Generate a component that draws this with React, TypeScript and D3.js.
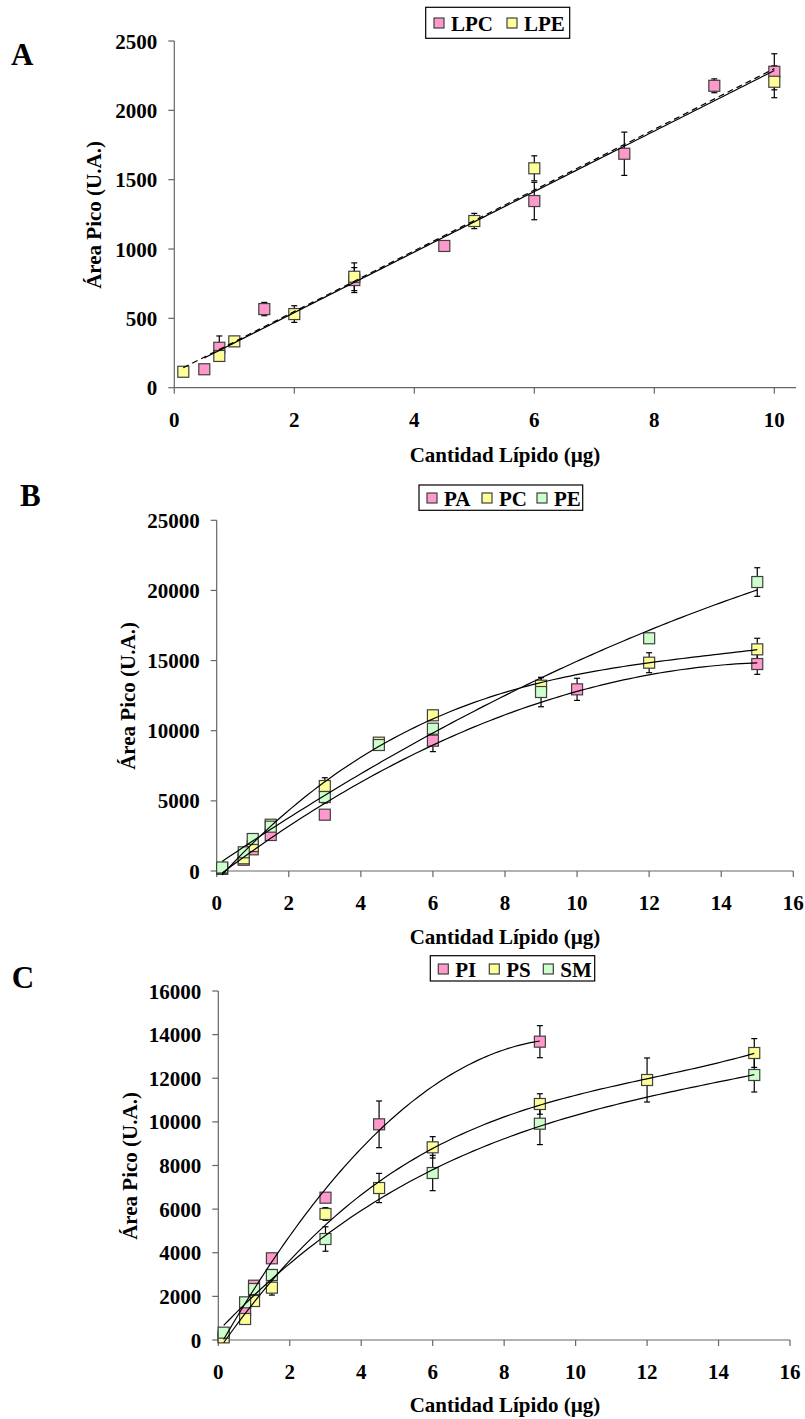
import React from 'react';
import * as d3 from 'd3';

// ---------- Panel A data ----------
const A_LPC_X = [0.5, 0.75, 1.5, 3, 4.5, 6, 7.5, 9, 10];
const A_LPC_Y = [133, 288, 567, 776, 1022, 1346, 1687, 2177, 2278];
const A_LPC_ERR = [0, 85, 48, 90, 0, 135, 156, 50, 130];
const A_LPE_X = [0.15, 0.75, 1, 2, 3, 5, 6, 10];
const A_LPE_Y = [115, 229, 334, 531, 800, 1202, 1582, 2206];
const A_LPE_ERR = [0, 0, 35, 60, 100, 55, 90, 115];
const A_X_TICKS = [0, 2, 4, 6, 8, 10];
const A_Y_TICKS = [0, 500, 1000, 1500, 2000, 2500];

// ---------- Panel B data ----------
const B_PA_X = [0.15, 0.75, 1, 1.5, 3, 6, 10, 15];
const B_PA_Y = [150, 800, 1545, 2566, 4014, 9289, 12950, 14755];
const B_PA_ERR = [0, 0, 100, 150, 0, 780, 790, 735];
const B_PC_X = [0.15, 0.75, 1, 1.5, 3, 4.5, 6, 9, 12, 15];
const B_PC_Y = [200, 905, 1782, 3300, 6059, 9150, 11099, 13210, 14850, 15800];
const B_PC_ERR = [0, 0, 100, 200, 590, 200, 350, 570, 710, 790];
const B_PE_X = [0.15, 0.75, 1, 1.5, 3, 4.5, 6, 9, 12, 15];
const B_PE_Y = [250, 1333, 2281, 3160, 5275, 8982, 10144, 12760, 16590, 20600];
const B_PE_ERR = [0, 0, 0, 150, 430, 0, 300, 1050, 0, 1020];
const B_X_TICKS = [0, 2, 4, 6, 8, 10, 12, 14, 16];
const B_Y_TICKS = [0, 5000, 10000, 15000, 20000, 25000];

// ---------- Panel C data ----------
const C_PI_X = [0.15, 0.75, 1, 1.5, 3, 4.5, 9];
const C_PI_Y = [150, 1375, 2490, 3745, 6525, 9888, 13677];
const C_PI_ERR = [0, 0, 100, 200, 0, 1070, 735];
const C_PS_X = [0.15, 0.75, 1, 1.5, 3, 4.5, 6, 9, 12, 15];
const C_PS_Y = [120, 963, 1788, 2399, 5777, 6968, 8833, 10820, 11920, 13158];
const C_PS_ERR = [0, 0, 200, 340, 290, 670, 490, 470, 1010, 660];
const C_SM_X = [0.15, 0.75, 1, 1.5, 3, 6, 9, 15];
const C_SM_Y = [336, 1727, 2338, 2980, 4630, 7656, 9917, 12149];
const C_SM_ERR = [0, 0, 0, 250, 560, 810, 960, 780];
const C_X_TICKS = [0, 2, 4, 6, 8, 10, 12, 14, 16];
const C_Y_TICKS = [0, 2000, 4000, 6000, 8000, 10000, 12000, 14000, 16000];

// polynomial trendline order per series
const TREND_ORDER_A = [1, 1];
const TREND_ORDER_B = [2, 3, 2];
const TREND_ORDER_C = [2, 3, 3];

const PINK = '#FF99CC';
const YELLOW = '#FFFF99';
const GREEN = '#CCFFCC';
const FONT = '"Liberation Serif", "Times New Roman", serif';
const AXIS = '#666666';

type Series = { name: string; x: number[]; y: number[]; err: number[]; color: string; deg: number; dash?: string };

function polyfit(xs: number[], ys: number[], deg: number): number[] {
  const n = deg + 1;
  const M: number[][] = [];
  for (let i = 0; i < n; i++) {
    const row: number[] = [];
    for (let j = 0; j < n; j++) row.push(d3.sum(xs, (x) => Math.pow(x, i + j)));
    row.push(d3.sum(xs, (x, k) => Math.pow(x, i) * ys[k]));
    M.push(row);
  }
  for (let c = 0; c < n; c++) {
    let p = c;
    for (let r = c + 1; r < n; r++) if (Math.abs(M[r][c]) > Math.abs(M[p][c])) p = r;
    [M[c], M[p]] = [M[p], M[c]];
    for (let r = 0; r < n; r++) {
      if (r === c) continue;
      const f = M[r][c] / M[c][c];
      for (let k = c; k <= n; k++) M[r][k] -= f * M[c][k];
    }
  }
  return M.map((row, i) => row[n] / row[i]);
}

type PanelProps = {
  letter: string;
  letterPos: [number, number];
  xRange: [number, number];
  xDomain: [number, number];
  xAxisEnd: number;
  yRange: [number, number];
  yDomain: [number, number];
  xTicks: number[];
  yTicks: number[];
  series: Series[];
  yTitlePos: [number, number];
  xTitlePos: [number, number];
  legendBox: [number, number, number, number];
  legendItemX: number[];
  legendBaseline: number;
};

function Panel(p: PanelProps) {
  const x = d3.scaleLinear().domain(p.xDomain).range(p.xRange);
  const y = d3.scaleLinear().domain(p.yDomain).range(p.yRange);
  const y0 = p.yRange[0];
  const x0 = p.xRange[0];
  const ms = 11;
  const fs = 21;
  return (
    <g>
      <text x={p.letterPos[0]} y={p.letterPos[1]} fontFamily={FONT} fontWeight="bold" fontSize={31}>{p.letter}</text>
      {/* axes */}
      <line x1={x0} x2={x0} y1={p.yRange[1]} y2={y0} stroke={AXIS} strokeWidth={1.2} />
      <line x1={x0} x2={p.xAxisEnd} y1={y0} y2={y0} stroke={AXIS} strokeWidth={1.2} />
      {p.yTicks.map((t) => (
        <g key={'y' + t}>
          <line x1={x0 - 6} x2={x0} y1={y(t)} y2={y(t)} stroke={AXIS} strokeWidth={1.2} />
          <text x={x0 - 17} y={y(t) + 7.5} textAnchor="end" fontFamily={FONT} fontWeight="bold" fontSize={fs}>{t}</text>
        </g>
      ))}
      {p.xTicks.map((t) => (
        <g key={'x' + t}>
          <line x1={x(t)} x2={x(t)} y1={y0} y2={y0 + 6} stroke={AXIS} strokeWidth={1.2} />
          <text x={x(t)} y={y0 + 39} textAnchor="middle" fontFamily={FONT} fontWeight="bold" fontSize={fs}>{t}</text>
        </g>
      ))}
      <text transform={`translate(${p.yTitlePos[0]},${p.yTitlePos[1]}) rotate(-90)`} textAnchor="middle" fontFamily={FONT} fontWeight="bold" fontSize={fs}>Área Pico (U.A.)</text>
      <text x={p.xTitlePos[0]} y={p.xTitlePos[1]} textAnchor="middle" fontFamily={FONT} fontWeight="bold" fontSize={fs}>Cantidad Lípido (µg)</text>
      {/* error bars */}
      {p.series.map((s) => (
        <g key={'e' + s.name}>
          {s.x.map((xv, i) => s.err[i] > 0 ? (
            <g key={i}>
              <line x1={x(xv)} x2={x(xv)} y1={y(s.y[i] - s.err[i])} y2={y(s.y[i] + s.err[i])} stroke="#000" strokeWidth={1.2} />
              <line x1={x(xv) - 3} x2={x(xv) + 3} y1={y(s.y[i] - s.err[i])} y2={y(s.y[i] - s.err[i])} stroke="#000" strokeWidth={1.2} />
              <line x1={x(xv) - 3} x2={x(xv) + 3} y1={y(s.y[i] + s.err[i])} y2={y(s.y[i] + s.err[i])} stroke="#000" strokeWidth={1.2} />
            </g>
          ) : null)}
        </g>
      ))}
      {/* markers */}
      {p.series.map((s) => (
        <g key={'m' + s.name}>
          {s.x.map((xv, i) => (
            <rect key={i} x={x(xv) - ms / 2} y={y(s.y[i]) - ms / 2} width={ms} height={ms} fill={s.color} stroke="#404040" strokeWidth={1.2} />
          ))}
        </g>
      ))}
      {/* trend lines */}
      {p.series.map((s) => {
        const c = polyfit(s.x, s.y, s.deg);
        const lo = d3.min(s.x) as number;
        const hi = d3.max(s.x) as number;
        const pts = d3.range(0, 101).map((k) => lo + ((hi - lo) * k) / 100);
        const f = (xv: number) => c.reduce((a, ci, i) => a + ci * Math.pow(xv, i), 0);
        const line = d3.line<number>().x((xv) => x(xv)).y((xv) => Math.min(y(f(xv)), y0 + 7));
        return <path key={'t' + s.name} d={line(pts) || ''} fill="none" stroke="#000" strokeWidth={1.2} strokeDasharray={s.dash} />;
      })}
      {/* legend */}
      <rect x={p.legendBox[0]} y={p.legendBox[1]} width={p.legendBox[2]} height={p.legendBox[3]} fill="#fff" stroke="#000" strokeWidth={1.2} />
      {p.series.map((s, i) => (
        <g key={'l' + s.name}>
          <rect x={p.legendItemX[i]} y={p.legendBaseline - 13} width={10} height={10} fill={s.color} stroke="#404040" strokeWidth={1.2} />
          <text x={p.legendItemX[i] + 17} y={p.legendBaseline} fontFamily={FONT} fontWeight="bold" fontSize={fs}>{s.name}</text>
        </g>
      ))}
    </g>
  );
}

export default function App() {
  const seriesA: Series[] = [
    { name: 'LPC', x: A_LPC_X, y: A_LPC_Y, err: A_LPC_ERR, color: PINK, deg: TREND_ORDER_A[0] },
    { name: 'LPE', x: A_LPE_X, y: A_LPE_Y, err: A_LPE_ERR, color: YELLOW, deg: TREND_ORDER_A[1], dash: '6,4' },
  ];
  const seriesB: Series[] = [
    { name: 'PA', x: B_PA_X, y: B_PA_Y, err: B_PA_ERR, color: PINK, deg: TREND_ORDER_B[0] },
    { name: 'PC', x: B_PC_X, y: B_PC_Y, err: B_PC_ERR, color: YELLOW, deg: TREND_ORDER_B[1] },
    { name: 'PE', x: B_PE_X, y: B_PE_Y, err: B_PE_ERR, color: GREEN, deg: TREND_ORDER_B[2] },
  ];
  const seriesC: Series[] = [
    { name: 'PI', x: C_PI_X, y: C_PI_Y, err: C_PI_ERR, color: PINK, deg: TREND_ORDER_C[0] },
    { name: 'PS', x: C_PS_X, y: C_PS_Y, err: C_PS_ERR, color: YELLOW, deg: TREND_ORDER_C[1] },
    { name: 'SM', x: C_SM_X, y: C_SM_Y, err: C_SM_ERR, color: GREEN, deg: TREND_ORDER_C[2] },
  ];
  return (
    <svg width={805} height={1419} style={{ position: 'absolute', left: 0, top: 0, background: '#fff' }}>
      <rect width={805} height={1419} fill="#fff" />
      <Panel
        letter="A" letterPos={[11, 65]}
        xRange={[174.3, 774.3]} xDomain={[0, 10]} xAxisEnd={796}
        yRange={[387.7, 41]} yDomain={[0, 2500]}
        xTicks={A_X_TICKS} yTicks={A_Y_TICKS} series={seriesA}
        yTitlePos={[101, 215]} xTitlePos={[505, 462]}
        legendBox={[425.7, 7.3, 144, 31]} legendItemX={[434, 507]} legendBaseline={31}
      />
      <Panel
        letter="B" letterPos={[20, 506]}
        xRange={[216.7, 793.3]} xDomain={[0, 16]} xAxisEnd={793.3}
        yRange={[871, 520.3]} yDomain={[0, 25000]}
        xTicks={B_X_TICKS} yTicks={B_Y_TICKS} series={seriesB}
        yTitlePos={[135, 696]} xTitlePos={[505, 944]}
        legendBox={[419, 485, 163.7, 25.3]} legendItemX={[427, 482, 537]} legendBaseline={506}
      />
      <Panel
        letter="C" letterPos={[11.7, 988]}
        xRange={[218.3, 790]} xDomain={[0, 16]} xAxisEnd={790}
        yRange={[1340, 991]} yDomain={[0, 16000]}
        xTicks={C_X_TICKS} yTicks={C_Y_TICKS} series={seriesC}
        yTitlePos={[137, 1166]} xTitlePos={[505, 1412]}
        legendBox={[430.3, 955.7, 164.4, 25.3]} legendItemX={[438.3, 489.3, 543.3]} legendBaseline={977}
      />
    </svg>
  );
}
